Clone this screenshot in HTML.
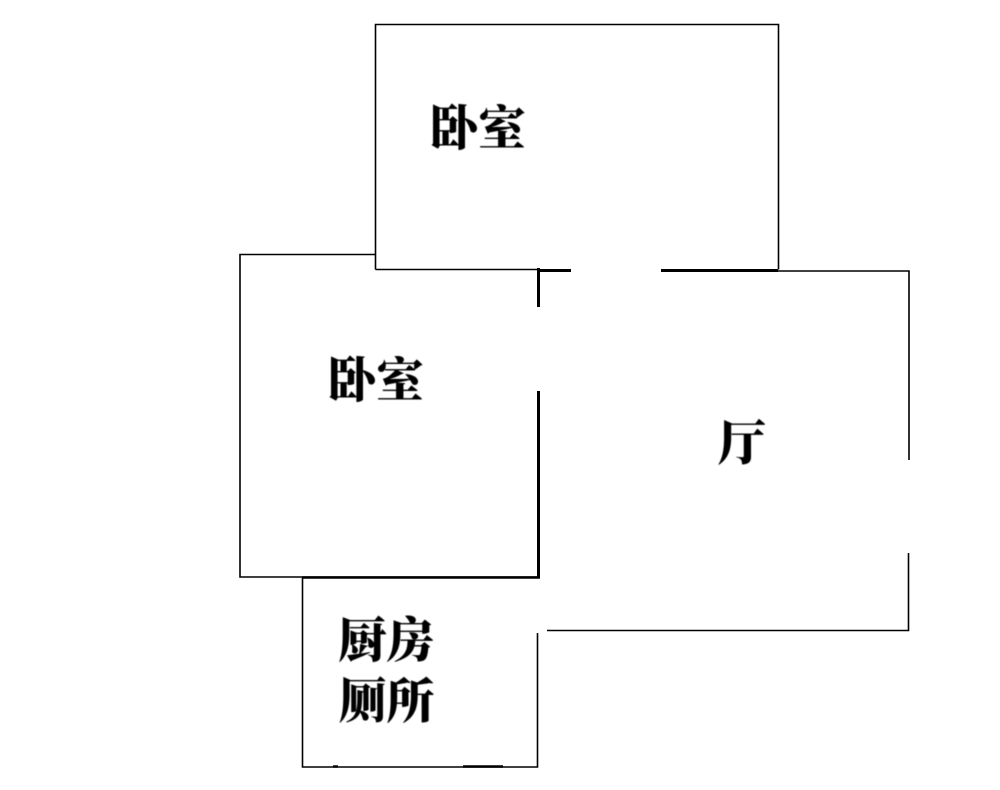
<!DOCTYPE html>
<html>
<head>
<meta charset="utf-8">
<style>
html,body{margin:0;padding:0;background:#fff;}
svg{display:block;}
text{font-family:"Liberation Serif","Noto Serif CJK SC",serif;font-weight:900;fill:#000;font-size:48px;letter-spacing:0;}
</style>
</head>
<body>
<svg width="1000" height="790" viewBox="0 0 1000 790" xmlns="http://www.w3.org/2000/svg">
<defs><filter id="b" x="-10%" y="-10%" width="120%" height="120%"><feGaussianBlur stdDeviation="0.45"/></filter></defs>
<rect width="1000" height="790" fill="#fff"/>
<g fill="none" stroke="#000" stroke-width="1.6">
<path d="M375.5 269.5V24.5H778.5V269.5"/>
<path d="M375.5 269.5H538"/>
<path d="M375.5 254.5H240V577H538"/>
<path d="M661 271H909V460"/>
<path d="M908.5 553V630.5H547"/>
<path d="M302.5 578V767H537.5V633"/>
</g>
<g fill="none" stroke="#000">
<path d="M538 270.5H571" stroke-width="3"/>
<path d="M661 270.5H778" stroke-width="3"/>
<path d="M538.5 268V307" stroke-width="3"/>
<path d="M538.5 391V578" stroke-width="3"/>
<path d="M302 577.5H540" stroke-width="2.6"/>
<path d="M463 766.5H503" stroke-width="2.6"/>
<path d="M333 766.5H338" stroke-width="2.4"/>
</g>
<g filter="url(#b)">
<text x="430" y="145">卧室</text>
<text x="328" y="397">卧室</text>
<text x="718" y="460">厅</text>
<text x="338.5" y="657">厨房</text>
<text x="338.5" y="718">厕所</text>
</g>
</svg>
</body>
</html>
